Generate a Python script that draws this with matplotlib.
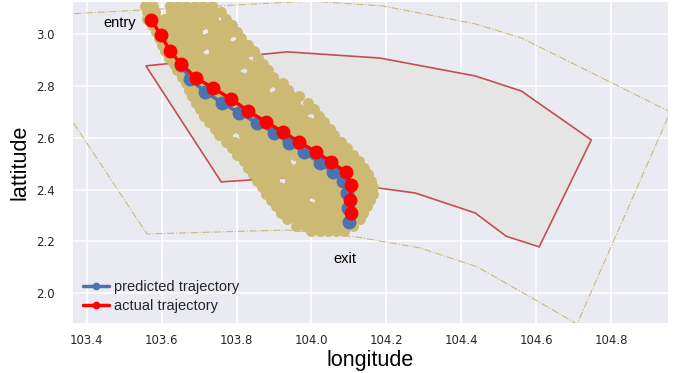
import numpy as np
import matplotlib
matplotlib.use('Agg')
from matplotlib import pyplot as plt
import seaborn as sns

# actual trajectory (lon, lat)
actual_lon = [103.572, 103.598, 103.622, 103.652, 103.692, 103.737, 103.785, 103.831, 103.879,
              103.924, 103.967, 104.012, 104.052, 104.092, 104.106, 104.103, 104.106]
actual_lat = [3.055, 2.997, 2.936, 2.885, 2.831, 2.793, 2.750, 2.704, 2.661,
              2.623, 2.584, 2.546, 2.507, 2.468, 2.418, 2.360, 2.310]

# predicted trajectory
pred_lon = [103.652, 103.676, 103.716, 103.762, 103.807, 103.855, 103.901, 103.940,
            103.980, 104.023, 104.058, 104.085, 104.095, 104.098, 104.100]
pred_lat = [2.881, 2.827, 2.777, 2.735, 2.696, 2.657, 2.619, 2.580,
            2.545, 2.503, 2.468, 2.433, 2.387, 2.329, 2.275]

# inner region (filled, red edge)
region_lon = [103.558, 103.935, 104.183, 104.437, 104.560, 104.747, 104.608, 104.520,
              104.437, 104.277, 103.960, 103.759]
region_lat = [2.878, 2.932, 2.908, 2.839, 2.781, 2.592, 2.179, 2.220,
              2.310, 2.387, 2.449, 2.430]

# outer boundary (dash-dot)
outer_lon = [103.178, 103.996, 104.191, 104.437, 104.560, 104.958, 104.709, 104.584,
             104.442, 104.290, 104.122, 103.935, 103.561]
outer_lat = [3.065, 3.128, 3.109, 3.040, 2.986, 2.700, 1.881, 1.986,
             2.102, 2.175, 2.217, 2.244, 2.229]

# sampled positions, one row per latitude
cloud_rows = [
    (3.110, [103.556, 103.578, 103.622, 103.644, 103.666, 103.688, 103.710, 103.735]),
    (3.085, [103.560, 103.582, 103.626, 103.648, 103.670, 103.692, 103.714, 103.736, 103.758]),
    (3.060, [103.562, 103.584, 103.606, 103.628, 103.650, 103.672, 103.694, 103.716, 103.738, 103.772]),
    (3.035, [103.574, 103.596, 103.618, 103.640, 103.662, 103.684, 103.706, 103.728, 103.750, 103.772, 103.788]),
    (3.010, [103.584, 103.606, 103.628, 103.650, 103.672, 103.694, 103.738, 103.760, 103.782, 103.802]),
    (2.985, [103.592, 103.614, 103.636, 103.658, 103.680, 103.702, 103.724, 103.746, 103.768, 103.812]),
    (2.960, [103.600, 103.622, 103.644, 103.666, 103.688, 103.710, 103.732, 103.754, 103.776, 103.798, 103.820, 103.831]),
    (2.935, [103.609, 103.631, 103.653, 103.675, 103.697, 103.741, 103.763, 103.785, 103.807, 103.829, 103.846]),
    (2.910, [103.619, 103.641, 103.663, 103.685, 103.707, 103.729, 103.751, 103.773, 103.795, 103.817, 103.858]),
    (2.885, [103.632, 103.654, 103.676, 103.698, 103.720, 103.742, 103.764, 103.786, 103.808, 103.830, 103.852, 103.870]),
    (2.860, [103.642, 103.664, 103.686, 103.708, 103.730, 103.752, 103.774, 103.796, 103.840, 103.862, 103.883]),
    (2.835, [103.654, 103.676, 103.698, 103.720, 103.742, 103.764, 103.786, 103.808, 103.830, 103.852, 103.874, 103.896]),
    (2.810, [103.665, 103.687, 103.709, 103.731, 103.753, 103.775, 103.797, 103.819, 103.841, 103.863, 103.885, 103.907, 103.925]),
    (2.785, [103.674, 103.696, 103.718, 103.740, 103.762, 103.784, 103.806, 103.828, 103.850, 103.872, 103.916, 103.938]),
    (2.760, [103.682, 103.704, 103.726, 103.748, 103.770, 103.792, 103.814, 103.836, 103.858, 103.880, 103.902, 103.924, 103.946, 103.968]),
    (2.735, [103.692, 103.714, 103.736, 103.758, 103.780, 103.802, 103.824, 103.846, 103.868, 103.890, 103.912, 103.934, 103.956, 103.990]),
    (2.710, [103.702, 103.724, 103.746, 103.768, 103.790, 103.812, 103.834, 103.856, 103.878, 103.900, 103.922, 103.944, 103.966, 103.988, 104.008]),
    (2.685, [103.712, 103.734, 103.756, 103.778, 103.800, 103.822, 103.844, 103.866, 103.888, 103.910, 103.932, 103.954, 103.976, 104.020]),
    (2.660, [103.726, 103.748, 103.770, 103.792, 103.814, 103.836, 103.858, 103.880, 103.902, 103.924, 103.946, 103.968, 103.990, 104.012, 104.034]),
    (2.635, [103.742, 103.764, 103.786, 103.808, 103.830, 103.852, 103.874, 103.896, 103.918, 103.940, 103.962, 103.984, 104.006, 104.028, 104.050]),
    (2.610, [103.753, 103.775, 103.819, 103.841, 103.863, 103.885, 103.907, 103.929, 103.951, 103.973, 103.995, 104.017, 104.039, 104.061]),
    (2.585, [103.772, 103.794, 103.816, 103.838, 103.860, 103.882, 103.904, 103.926, 103.948, 103.970, 103.992, 104.014, 104.036, 104.058, 104.080]),
    (2.560, [103.787, 103.809, 103.831, 103.853, 103.875, 103.897, 103.919, 103.941, 103.963, 103.985, 104.007, 104.029, 104.051, 104.073, 104.095]),
    (2.535, [103.802, 103.824, 103.846, 103.868, 103.890, 103.912, 103.934, 103.956, 103.978, 104.000, 104.022, 104.044, 104.066, 104.088, 104.110]),
    (2.510, [103.819, 103.841, 103.863, 103.885, 103.907, 103.929, 103.973, 103.995, 104.017, 104.039, 104.061, 104.083, 104.105, 104.127]),
    (2.485, [103.831, 103.853, 103.875, 103.897, 103.919, 103.941, 103.963, 103.985, 104.007, 104.029, 104.051, 104.073, 104.095, 104.117, 104.139]),
    (2.460, [103.843, 103.865, 103.887, 103.909, 103.931, 103.953, 103.975, 103.997, 104.019, 104.041, 104.063, 104.085, 104.107, 104.129, 104.150]),
    (2.435, [103.855, 103.877, 103.899, 103.943, 103.965, 103.987, 104.009, 104.031, 104.053, 104.075, 104.097, 104.119, 104.141, 104.158]),
    (2.410, [103.868, 103.890, 103.912, 103.934, 103.956, 103.978, 104.000, 104.022, 104.044, 104.066, 104.088, 104.110, 104.132, 104.154, 104.164]),
    (2.385, [103.878, 103.900, 103.922, 103.944, 103.966, 103.988, 104.010, 104.032, 104.054, 104.076, 104.098, 104.120, 104.142, 104.163]),
    (2.360, [103.891, 103.913, 103.935, 103.957, 103.979, 104.023, 104.045, 104.067, 104.089, 104.111, 104.133, 104.155]),
    (2.335, [103.905, 103.927, 103.949, 103.971, 103.993, 104.015, 104.037, 104.059, 104.081, 104.103, 104.125, 104.147]),
    (2.310, [103.918, 103.940, 103.962, 103.984, 104.006, 104.028, 104.050, 104.072, 104.094, 104.116, 104.138]),
    (2.285, [103.936, 103.958, 103.980, 104.002, 104.024, 104.046, 104.068, 104.090, 104.112, 104.130]),
    (2.260, [103.960, 103.982, 104.004, 104.026, 104.048, 104.070, 104.092, 104.112]),
    (2.240, [104.000, 104.022, 104.044, 104.066, 104.088]),
]

xticks = [103.4, 103.6, 103.8, 104.0, 104.2, 104.4, 104.6, 104.8]
yticks = [2.0, 2.2, 2.4, 2.6, 2.8, 3.0]

sns.set_style('darkgrid')
plt.rcParams['font.family'] = ['Liberation Sans', 'DejaVu Sans']

cloud_lon = []
cloud_lat = []
for lat, lons in cloud_rows:
    cloud_lon += lons
    cloud_lat += [lat] * len(lons)

fig = plt.figure(figsize=(6.81, 3.73), dpi=100)
ax = fig.add_axes([0.107, 0.134, 0.874, 0.861])
ax.set_facecolor('#EAEAF2')

# grid drawn by hand so every mark sits on top of it
ax.grid(False)
for x in xticks:
    ax.axvline(x, color='white', lw=1.1, zorder=1)
for y in yticks:
    ax.axhline(y, color='white', lw=1.1, zorder=1)

ax.fill(region_lon, region_lat, facecolor='#E5E5E5', edgecolor='#C44E52', lw=1.2, zorder=2)
ax.plot(outer_lon + outer_lon[:1], outer_lat + outer_lat[:1], '-.', color='#CCB974', lw=0.8, zorder=2)
ax.scatter(cloud_lon, cloud_lat, s=62, color='#CCB974', linewidths=0, zorder=3)

ax.plot(pred_lon, pred_lat, '-o', color='#4C72B0', lw=2.5, ms=9, zorder=4, label='predicted trajectory')
ax.plot(actual_lon, actual_lat, '-o', color='red', lw=2.5, ms=9, zorder=5, label='actual trajectory')

ax.text(103.489, 3.044, 'entry', fontsize=10.5, ha='center', va='center', color='black')
ax.text(104.090, 2.132, 'exit', fontsize=10.5, ha='center', va='center', color='black')

ax.set_xlim(103.363, 104.952)
ax.set_ylim(1.885, 3.125)
ax.set_xticks(xticks)
ax.set_yticks(yticks)
for t in ax.get_xticklabels() + ax.get_yticklabels():
    t.set_family('DejaVu Sans')
    t.set_fontsize(8.5)
    t.set_color('#262626')
ax.tick_params(length=0)
ax.tick_params(axis='x', pad=8)
ax.tick_params(axis='y', pad=13)
for s in ax.spines.values():
    s.set_visible(False)

ax.set_xlabel('longitude', fontsize=15.5, color='black', labelpad=2)
ax.set_ylabel('lattitude', fontsize=15.5, color='black', labelpad=4)

ax.legend(loc='lower left', frameon=False, fontsize=10.5, markerscale=0.5,
          labelspacing=0.3, handlelength=1.8, handletextpad=0.3, borderaxespad=0.3)

fig.savefig('out.png', dpi=100)
